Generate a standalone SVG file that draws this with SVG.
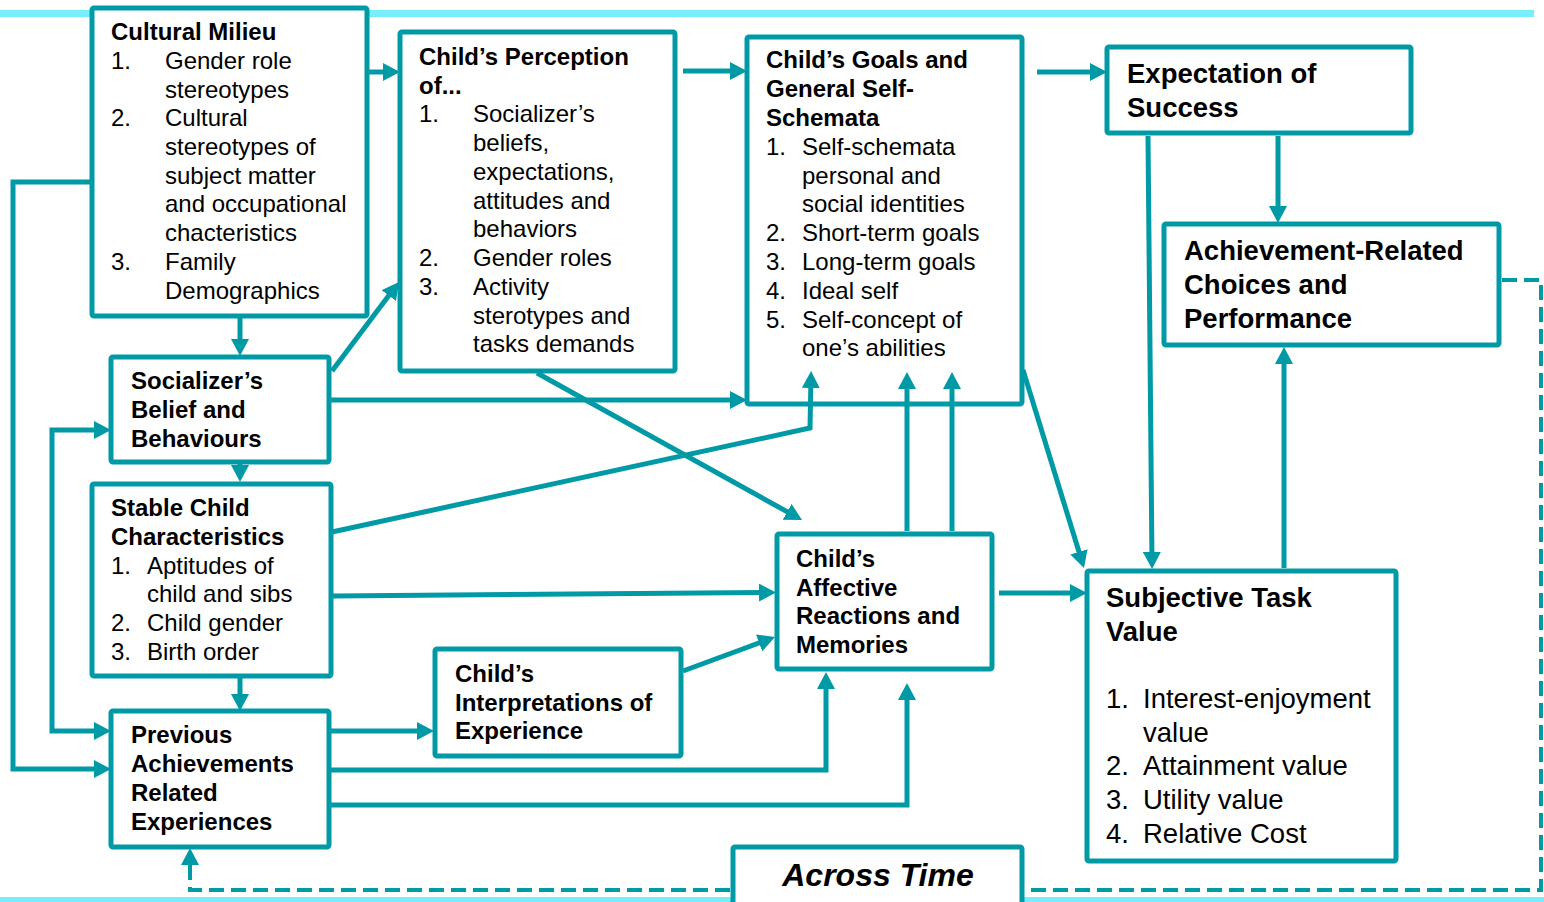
<svg xmlns="http://www.w3.org/2000/svg" width="1544" height="902" viewBox="0 0 1544 902">
<style>
.box{fill:#fff;stroke:#0099A6;stroke-width:5}
.ln{fill:none;stroke:#0099A6;stroke-width:5}
.dash{fill:none;stroke:#0099A6;stroke-width:4;stroke-dasharray:15 7}
text{font-family:"Liberation Sans",Arial,sans-serif;fill:#000}
.t{font-size:24px}
.b{font-weight:bold}
.l{font-size:27.5px}
.at{font-size:32px;font-weight:bold;font-style:italic}
</style>
<defs>
<marker id="ah" markerUnits="userSpaceOnUse" markerWidth="18" markerHeight="18" refX="11" refY="9" orient="auto-start-reverse">
<path d="M0,0 L17,9 L0,18 Z" fill="#0099A6"/>
</marker>
</defs>
<rect x="0" y="10" width="1534" height="7" fill="#76EEFC"/>
<rect x="0" y="897" width="1544" height="5" fill="#76EEFC"/>

<g id="cultural-milieu">
<rect class="box" x="92" y="8" width="275" height="308" rx="2"/>
<text class="t"><tspan class="b" x="111" y="40">Cultural Milieu</tspan>
<tspan x="111" y="69">1.</tspan><tspan x="165" y="69">Gender role</tspan>
<tspan x="165" y="97.5">stereotypes</tspan>
<tspan x="111" y="126">2.</tspan><tspan x="165" y="126">Cultural</tspan>
<tspan x="165" y="155">stereotypes of</tspan>
<tspan x="165" y="183.5">subject matter</tspan>
<tspan x="165" y="212">and occupational</tspan>
<tspan x="165" y="241">chacteristics</tspan>
<tspan x="111" y="270">3.</tspan><tspan x="165" y="270">Family</tspan>
<tspan x="165" y="298.5">Demographics</tspan></text>
</g>

<g id="childs-perception">
<rect class="box" x="400" y="32" width="275" height="339" rx="2"/>
<text class="t"><tspan class="b" x="419" y="65">Child’s Perception</tspan>
<tspan class="b" x="419" y="93.7">of...</tspan>
<tspan x="419" y="122.4">1.</tspan><tspan x="473" y="122.4">Socializer’s</tspan>
<tspan x="473" y="151">beliefs,</tspan>
<tspan x="473" y="180">expectations,</tspan>
<tspan x="473" y="208.5">attitudes and</tspan>
<tspan x="473" y="237">behaviors</tspan>
<tspan x="419" y="266">2.</tspan><tspan x="473" y="266">Gender roles</tspan>
<tspan x="419" y="295">3.</tspan><tspan x="473" y="295">Activity</tspan>
<tspan x="473" y="323.5">sterotypes and</tspan>
<tspan x="473" y="352">tasks demands</tspan></text>
</g>

<g id="childs-goals">
<rect class="box" x="747" y="37" width="275" height="367" rx="2"/>
<text class="t"><tspan class="b" x="766" y="68">Child’s Goals and</tspan>
<tspan class="b" x="766" y="97">General Self-</tspan>
<tspan class="b" x="766" y="126">Schemata</tspan>
<tspan x="766" y="155">1.</tspan><tspan x="802" y="155">Self-schemata</tspan>
<tspan x="802" y="183.5">personal and</tspan>
<tspan x="802" y="212">social identities</tspan>
<tspan x="766" y="241">2.</tspan><tspan x="802" y="241">Short-term goals</tspan>
<tspan x="766" y="270">3.</tspan><tspan x="802" y="270">Long-term goals</tspan>
<tspan x="766" y="299">4.</tspan><tspan x="802" y="299">Ideal self</tspan>
<tspan x="766" y="327.5">5.</tspan><tspan x="802" y="327.5">Self-concept of</tspan>
<tspan x="802" y="356">one’s abilities</tspan></text>
</g>

<g id="expectation">
<rect class="box" x="1107" y="47" width="304" height="86" rx="2"/>
<text class="l b"><tspan x="1127" y="83">Expectation of</tspan><tspan x="1127" y="117">Success</tspan></text>
</g>

<g id="achievement">
<rect class="box" x="1164" y="224" width="335" height="121" rx="2"/>
<text class="l b"><tspan x="1184" y="260">Achievement-Related</tspan><tspan x="1184" y="294">Choices and</tspan><tspan x="1184" y="327.5">Performance</tspan></text>
</g>

<g id="socializers">
<rect class="box" x="111" y="357" width="218" height="105" rx="2"/>
<text class="t b"><tspan x="131" y="389">Socializer’s</tspan><tspan x="131" y="418">Belief and</tspan><tspan x="131" y="447">Behaviours</tspan></text>
</g>

<g id="stable-child">
<rect class="box" x="92" y="484" width="239" height="192" rx="2"/>
<text class="t"><tspan class="b" x="111" y="516">Stable Child</tspan>
<tspan class="b" x="111" y="545">Characteristics</tspan>
<tspan x="111" y="573.6">1.</tspan><tspan x="147" y="573.6">Aptitudes of</tspan>
<tspan x="147" y="602">child and sibs</tspan>
<tspan x="111" y="631">2.</tspan><tspan x="147" y="631">Child gender</tspan>
<tspan x="111" y="660">3.</tspan><tspan x="147" y="660">Birth order</tspan></text>
</g>

<g id="previous">
<rect class="box" x="111" y="711" width="218" height="136" rx="2"/>
<text class="t b"><tspan x="131" y="743">Previous</tspan><tspan x="131" y="772">Achievements</tspan><tspan x="131" y="801">Related</tspan><tspan x="131" y="830">Experiences</tspan></text>
</g>

<g id="interpretations">
<rect class="box" x="435" y="649" width="246" height="107" rx="2"/>
<text class="t b"><tspan x="455" y="681.7">Child’s</tspan><tspan x="455" y="710.5">Interpretations of</tspan><tspan x="455" y="739.3">Experience</tspan></text>
</g>

<g id="affective">
<rect class="box" x="777" y="534" width="215" height="135" rx="2"/>
<text class="t b"><tspan x="796" y="567">Child’s</tspan><tspan x="796" y="595.5">Affective</tspan><tspan x="796" y="624">Reactions and</tspan><tspan x="796" y="653">Memories</tspan></text>
</g>

<g id="subjective">
<rect class="box" x="1087" y="571" width="309" height="290" rx="2"/>
<text class="l"><tspan class="b" x="1106" y="607">Subjective Task</tspan>
<tspan class="b" x="1106" y="641">Value</tspan>
<tspan x="1106" y="708">1.</tspan><tspan x="1143" y="708">Interest-enjoyment</tspan>
<tspan x="1143" y="742">value</tspan>
<tspan x="1106" y="774.5">2.</tspan><tspan x="1143" y="774.5">Attainment value</tspan>
<tspan x="1106" y="808.5">3.</tspan><tspan x="1143" y="808.5">Utility value</tspan>
<tspan x="1106" y="842.7">4.</tspan><tspan x="1143" y="842.7">Relative Cost</tspan></text>
</g>

<g id="across-time">
<rect class="box" x="733" y="847" width="289" height="70" rx="2"/>
<text class="at" x="878" y="886" text-anchor="middle">Across Time</text>
</g>

<g id="connectors">
<path class="ln" d="M367,72 H394" marker-end="url(#ah)"/>
<path class="ln" d="M92,182 H13 V769 H105" marker-end="url(#ah)"/>
<path class="ln" d="M240,316 V350" marker-end="url(#ah)"/>
<path class="ln" d="M332,371 L395.4,286.8" marker-end="url(#ah)"/>
<path class="ln" d="M331,400 H741" marker-end="url(#ah)"/>
<path class="ln" d="M240,464 V476" marker-end="url(#ah)"/>
<path class="ln" d="M105,430 H52 V731 H105" marker-start="url(#ah)" marker-end="url(#ah)"/>
<path class="ln" d="M240,678 V705" marker-end="url(#ah)"/>
<path class="ln" d="M332,532 L810,428 L811,377" marker-end="url(#ah)"/>
<path class="ln" d="M537,373 L796.8,517.1" marker-end="url(#ah)"/>
<path class="ln" d="M333,596 L770,592.5" marker-end="url(#ah)"/>
<path class="ln" d="M683,671 L769.4,639.1" marker-end="url(#ah)"/>
<path class="ln" d="M331,731 H428" marker-end="url(#ah)"/>
<path class="ln" d="M331,770 H826 V678" marker-end="url(#ah)"/>
<path class="ln" d="M331,805 H907 V689" marker-end="url(#ah)"/>
<path class="ln" d="M907,531 V378" marker-end="url(#ah)"/>
<path class="ln" d="M952,531 V378" marker-end="url(#ah)"/>
<path class="ln" d="M683,71 H741" marker-end="url(#ah)"/>
<path class="ln" d="M1037,72 H1101" marker-end="url(#ah)"/>
<path class="ln" d="M1023,370 L1082.2,562.3" marker-end="url(#ah)"/>
<path class="ln" d="M1148,136 L1152,563" marker-end="url(#ah)"/>
<path class="ln" d="M1278,136 V217" marker-end="url(#ah)"/>
<path class="ln" d="M1284,568 V353" marker-end="url(#ah)"/>
<path class="ln" d="M999,593 H1081" marker-end="url(#ah)"/>
<path class="dash" d="M1502,280 H1541 V890 H1025"/>
<path class="dash" d="M730,890 H190 V854" marker-end="url(#ah)"/>
</g>
</svg>
